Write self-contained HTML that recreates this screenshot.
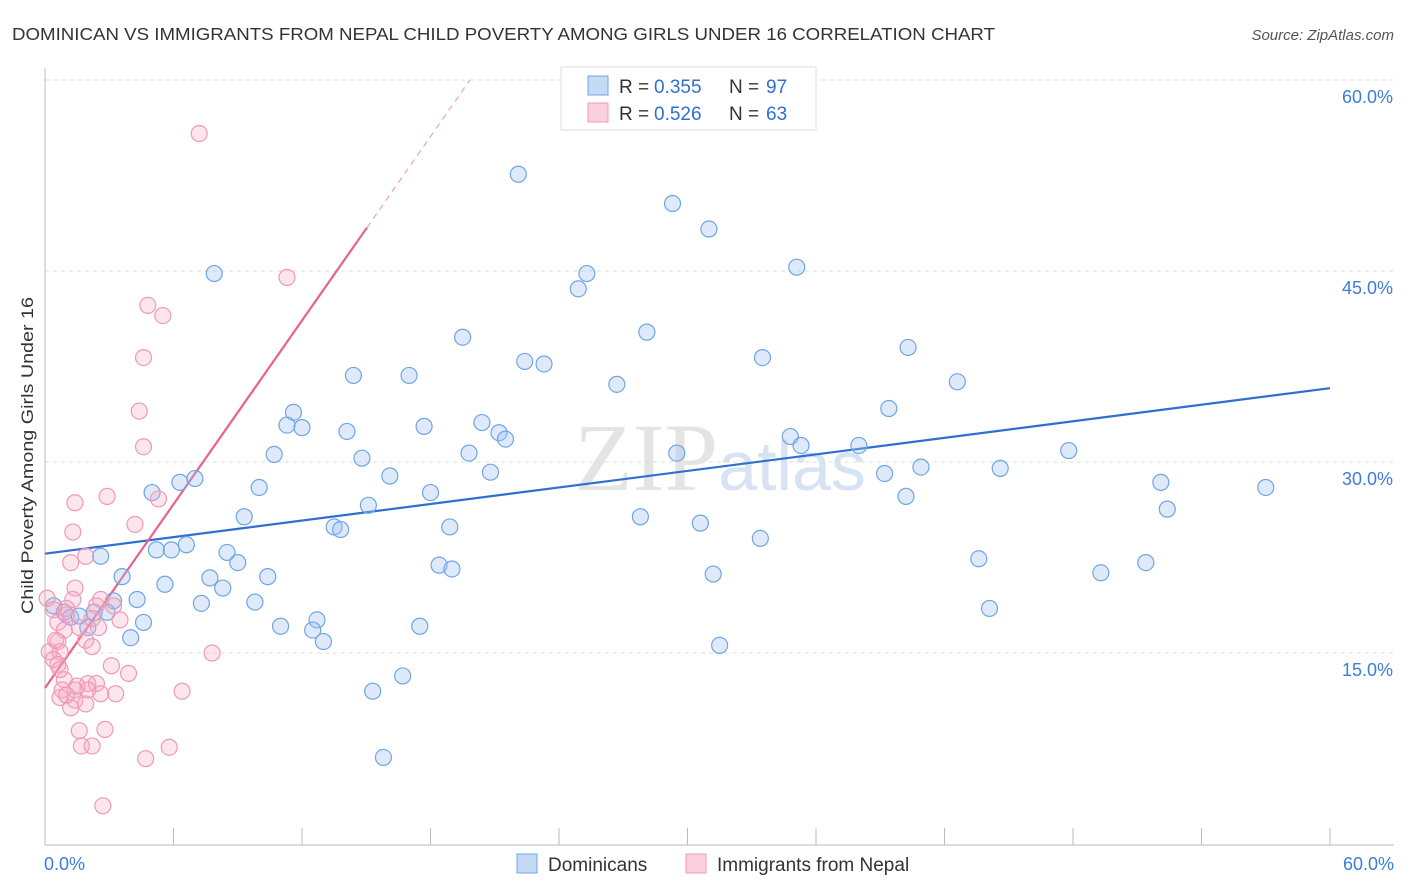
<!DOCTYPE html>
<html><head><meta charset="utf-8"><style>
body{margin:0;background:#fff;font-family:"Liberation Sans",sans-serif;}
#wrap{position:relative;width:1406px;height:892px;overflow:hidden;}
</style></head><body>
<div id="wrap">
<svg id="svg" width="1406" height="892" xmlns="http://www.w3.org/2000/svg">
<text x="12" y="40" font-size="17.5" fill="#333" textLength="983" lengthAdjust="spacingAndGlyphs">DOMINICAN VS IMMIGRANTS FROM NEPAL CHILD POVERTY AMONG GIRLS UNDER 16 CORRELATION CHART</text>
<text x="1394" y="40" font-size="15" fill="#555" text-anchor="end" font-style="italic">Source: ZipAtlas.com</text>
<text x="33" y="614" font-size="17" fill="#333" textLength="317" lengthAdjust="spacingAndGlyphs" transform="rotate(-90 33 614)">Child Poverty Among Girls Under 16</text>
<text x="720" y="490" font-size="96" fill="#e4e4e4" text-anchor="middle" font-family="Liberation Serif,serif">ZIP<tspan fill="#d6e3f3" font-family="Liberation Sans,sans-serif" font-size="70">atlas</tspan></text>
<g id="grid"></g><g id="axes"></g><g id="lines"></g><g id="pts"></g>
<g>
<rect x="561" y="67" width="255" height="63" fill="#fff" stroke="#ddd"/>
<rect x="588" y="76" width="20" height="19" fill="#c5dbf5" stroke="#6fa5e4"/>
<rect x="588" y="103" width="20" height="19" fill="#fbd0de" stroke="#f09ab5"/>
<text y="93" font-size="19" fill="#333"><tspan x="619">R =</tspan><tspan x="654" fill="#2f6fd0">0.355</tspan><tspan x="729">N =</tspan><tspan x="766" fill="#2f6fd0">97</tspan></text>
<text y="120" font-size="19" fill="#333"><tspan x="619">R =</tspan><tspan x="654" fill="#2f6fd0">0.526</tspan><tspan x="729">N =</tspan><tspan x="766" fill="#2f6fd0">63</tspan></text>
</g>
<g>
<rect x="517" y="854" width="20" height="19" fill="#c5dbf5" stroke="#6fa5e4"/>
<text x="548" y="871" font-size="19" fill="#333">Dominicans</text>
<rect x="686" y="854" width="20" height="19" fill="#fbd0de" stroke="#f09ab5"/>
<text x="717" y="871" font-size="19" fill="#333">Immigrants from Nepal</text>
</g>
</svg></div>
<script>
const yTicks=[15,30,45,60];
const yTickLabels=["15.0%","30.0%","45.0%","60.0%"];
const xEndLabels=["0.0%","60.0%"];
const blueX=[22.1,29.3,31.0,7.9,25.3,24.9,35.1,19.5,28.1,40.3,22.4,23.3,33.5,14.4,17.0,26.7,42.6,11.6,39.4,11.3,12.0,20.4,17.7,14.1,21.2,21.5,34.8,35.3,38.0,10.7,19.8,14.8,29.5,47.8,16.1,20.8,39.2,40.9,44.6,52.1,6.3,7.0,5.0,10.0,18.0,40.2,15.1,57.0,52.4,9.3,27.8,13.5,13.8,18.9,30.6,33.4,5.2,5.9,6.6,8.5,2.6,9.0,43.6,18.4,19.0,51.4,49.3,3.6,7.7,10.4,31.2,5.6,8.3,4.3,3.2,7.3,9.8,0.4,0.9,1.2,1.6,2.3,2.9,44.1,12.7,4.6,11.0,17.5,12.5,2.0,4.0,13.0,31.5,16.7,15.3,15.8];
const blueY=[52.6,50.3,48.3,44.8,44.8,43.6,45.3,39.8,40.2,39.0,37.9,37.7,38.2,36.8,36.8,36.1,36.3,33.9,34.2,32.9,32.7,33.1,32.8,32.4,32.3,31.8,32.0,31.3,31.3,30.6,30.7,30.3,30.7,30.9,28.9,29.2,29.1,29.6,29.5,28.4,28.4,28.7,27.6,28.0,27.6,27.3,26.6,28.0,26.3,25.7,25.7,24.9,24.7,24.9,25.2,24.0,23.1,23.1,23.5,22.9,22.6,22.1,22.4,21.9,21.6,22.1,21.3,21.0,20.9,21.0,21.2,20.4,20.1,19.2,19.1,18.9,19.0,18.7,18.2,17.8,17.9,18.2,18.2,18.5,17.6,17.4,17.1,17.1,16.8,17.0,16.2,15.9,15.6,13.2,12.0,6.8];
const pinkX=[7.2,11.3,4.8,5.5,4.6,4.4,4.6,1.4,2.9,5.3,1.3,4.2,1.9,1.2,1.4,0.1,1.3,0.4,1.0,2.4,3.2,0.6,2.2,1.6,2.5,0.9,1.9,0.6,2.2,0.7,0.2,7.8,0.4,0.6,3.1,3.9,0.9,2.0,2.4,1.5,0.8,2.6,3.3,6.4,0.7,1.4,1.9,1.2,2.8,1.6,1.7,2.2,5.8,4.7,2.7,0.7,0.5,1.4,1.0,2.0,3.5,1.0,2.6];
const pinkY=[55.8,44.5,42.3,41.5,38.2,34.0,31.2,26.8,27.3,27.1,24.5,25.1,22.6,22.1,20.1,19.3,19.2,18.4,18.5,18.7,18.7,17.4,17.7,17.0,17.0,16.8,16.0,15.9,15.5,15.1,15.1,15.0,14.5,14.1,14.0,13.4,12.9,12.6,12.6,12.4,12.1,11.8,11.8,12.0,11.5,11.3,11.0,10.7,9.0,8.9,7.7,7.7,7.6,6.7,3.0,13.7,16.0,12.1,11.7,12.1,17.6,18.0,19.2];
const blueTrend=[0,22.8,60,35.8];
const pinkTrend=[0,12.25,15.03,48.4,19.84,60];
const NS="http://www.w3.org/2000/svg";
const X=v=>45+v*21.417, Y=v=>844-v*12.733;
function mk(tag,attrs,parent){const e=document.createElementNS(NS,tag);for(const k in attrs)e.setAttribute(k,attrs[k]);document.getElementById(parent).appendChild(e);return e;}
yTicks.forEach((t,i)=>{
 const l=mk('line',{x1:45,x2:1394,y1:Y(t),y2:Y(t),stroke:'#ddd','stroke-dasharray':'4,4'},'grid');
 
 
 const tx=mk('text',{x:1393,y:Y(t)+23,'font-size':18,fill:'#3b7ddd','text-anchor':'end'},'grid');
 tx.textContent=yTickLabels[i];
 
 
});
const ax=mk('line',{x1:45,x2:45,y1:68,y2:845,stroke:'#bbb'},'axes');


const bx=mk('line',{x1:45,x2:1394,y1:845,y2:845,stroke:'#bbb'},'axes');


for(let i=0;i<=10;i++){const t=mk('line',{x1:X(i*6),x2:X(i*6),y1:828,y2:845,stroke:'#bbb'},'axes');
 
 }
[[0,'start',44],[60,'end',1394]].forEach((d,i)=>{const t=mk('text',{x:d[2],y:870,'font-size':18,fill:'#3b7ddd','text-anchor':d[1]},'axes');t.textContent=xEndLabels[i];
 
 });
function dot(x,y,fill,stroke,name){const c=mk('circle',{cx:X(x),cy:Y(y),r:8,fill:fill,stroke:stroke,'stroke-width':1.2},'pts');
 
 }
blueX.forEach((v,i)=>dot(v,blueY[i],'rgba(160,196,240,0.35)','#6fa5e4','dominican-point'));
pinkX.forEach((v,i)=>dot(v,pinkY[i],'rgba(246,170,196,0.3)','#f09ab5','nepal-point'));
const bl=mk('line',{x1:X(blueTrend[0]),y1:Y(blueTrend[1]),x2:X(blueTrend[2]),y2:Y(blueTrend[3]),stroke:'#2f6fd0','stroke-width':2.2},'lines');


const pl=mk('line',{x1:X(pinkTrend[0]),y1:Y(pinkTrend[1]),x2:X(pinkTrend[2]),y2:Y(pinkTrend[3]),stroke:'#e8618f','stroke-width':2.2},'lines');


const pd=mk('line',{x1:X(pinkTrend[2]),y1:Y(pinkTrend[3]),x2:X(pinkTrend[4]),y2:Y(pinkTrend[5]),stroke:'#f0a0bb','stroke-width':1.2,'stroke-dasharray':'6,5'},'lines');


</script>
</body></html>
